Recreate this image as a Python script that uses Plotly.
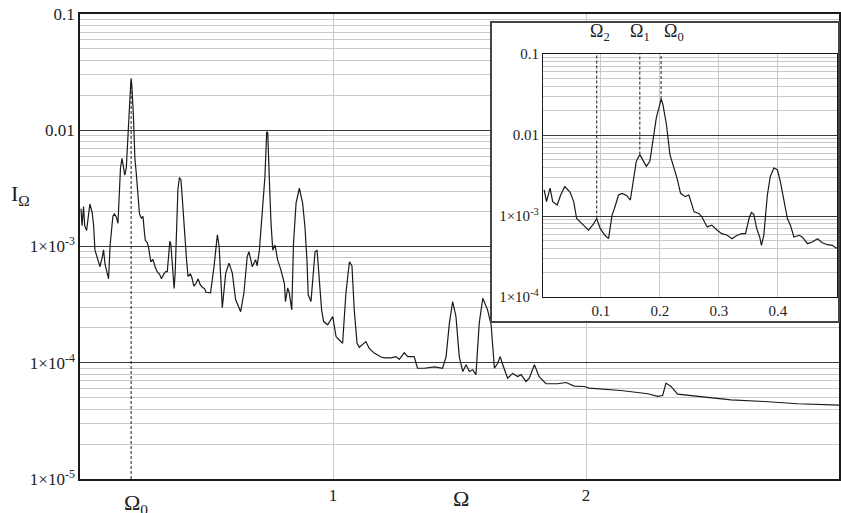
import numpy as np
import plotly.graph_objects as go

# ---- data ----
omega = [
    0.004, 0.008, 0.014, 0.0185, 0.026, 0.032, 0.039, 0.048, 0.054, 0.059,
    0.065, 0.071, 0.079, 0.088, 0.093, 0.099, 0.107, 0.113, 0.119, 0.123,
    0.130, 0.136, 0.144, 0.150, 0.154, 0.160, 0.166, 0.171, 0.177, 0.183,
    0.188, 0.194, 0.200, 0.202, 0.205, 0.211, 0.217, 0.223, 0.229, 0.235,
    0.243, 0.249, 0.254, 0.258, 0.266, 0.271, 0.280, 0.288, 0.297, 0.305,
    0.314, 0.322, 0.331, 0.339, 0.345, 0.351, 0.355, 0.359, 0.364, 0.369,
    0.372, 0.376, 0.382, 0.387, 0.393, 0.399, 0.404, 0.410, 0.416, 0.421,
    0.427, 0.436, 0.441, 0.450, 0.458, 0.467, 0.475, 0.484, 0.492, 0.498,
    0.516, 0.530, 0.543, 0.550, 0.5625, 0.576, 0.589, 0.602, 0.615, 0.635,
    0.648, 0.661, 0.668, 0.681, 0.694, 0.700, 0.709, 0.722, 0.731, 0.738,
    0.742, 0.748, 0.755, 0.762, 0.771, 0.781, 0.794, 0.808, 0.812, 0.821,
    0.827, 0.837, 0.844, 0.854, 0.867, 0.880, 0.889, 0.897, 0.902, 0.913,
    0.920, 0.929, 0.937, 0.946, 0.955, 0.963, 0.979, 0.999, 1.012, 1.025,
    1.038, 1.051, 1.065, 1.075, 1.084, 1.095, 1.104, 1.130, 1.143, 1.163,
    1.190, 1.203, 1.229, 1.249, 1.262, 1.282, 1.295, 1.321, 1.334, 1.361,
    1.401, 1.433, 1.447, 1.460, 1.473, 1.486, 1.499, 1.513, 1.526, 1.539,
    1.552, 1.565, 1.578, 1.592, 1.611, 1.625, 1.638, 1.651, 1.661, 1.671,
    1.690, 1.710, 1.730, 1.743, 1.763, 1.776, 1.796, 1.815, 1.842, 1.888,
    1.921, 1.954, 1.993, 2.013, 2.072, 2.138, 2.204, 2.244, 2.283, 2.303,
    2.316, 2.336, 2.362, 2.441, 2.507, 2.573, 2.705, 2.837, 3.000,
]
intensity = [
    2.11e-3, 1.51e-3, 2.21e-3, 1.51e-3, 1.37e-3, 1.82e-3, 2.32e-3, 1.97e-3, 1.51e-3, 9.35e-4,
    8.5e-4, 7.73e-4, 6.7e-4, 8.1e-4, 9.35e-4, 7.0e-4, 5.8e-4, 5.27e-4, 1.03e-3, 1.24e-3,
    1.82e-3, 1.91e-3, 1.79e-3, 1.58e-3, 2.43e-3, 4.74e-3, 5.74e-3, 4.98e-3, 4.11e-3, 4.74e-3,
    8.42e-3, 1.64e-2, 2.41e-2, 2.78e-2, 2.41e-2, 1.36e-2, 5.74e-3, 4.11e-3, 2.94e-3, 1.91e-3,
    1.74e-3, 1.82e-3, 1.37e-3, 1.13e-3, 1.08e-3, 9.8e-4, 7.36e-4, 7.73e-4, 6.7e-4, 6.08e-4,
    5.8e-4, 5.27e-4, 5.8e-4, 6.08e-4, 6.08e-4, 9.35e-4, 1.11e-3, 1.05e-3, 7.0e-4, 5.53e-4,
    4.36e-4, 5.8e-4, 1.82e-3, 3.09e-3, 3.92e-3, 3.74e-3, 2.67e-3, 1.66e-3, 9.35e-4, 7.73e-4,
    5.53e-4, 5.8e-4, 5.53e-4, 4.57e-4, 4.79e-4, 5.27e-4, 4.7e-4, 4.44e-4, 4.36e-4, 4.04e-4,
    4.0e-4, 6.8e-4, 1.26e-3, 1.0e-3, 2.97e-4, 5.9e-4, 7.2e-4, 5.9e-4, 3.5e-4, 2.75e-4,
    4.0e-4, 8.2e-4, 9.0e-4, 6.7e-4, 7.7e-4, 6.8e-4, 9.3e-4, 2.07e-3, 4.0e-3, 9.7e-3,
    9.5e-3, 4.0e-3, 1.58e-3, 9.3e-4, 1.03e-3, 7.7e-4, 6.3e-4, 4.8e-4, 3.36e-4, 4.4e-4,
    4.0e-4, 2.85e-4, 1.07e-3, 2.36e-3, 3.17e-3, 2.36e-3, 1.48e-3, 7.7e-4, 3.84e-4, 3.36e-4,
    5.5e-4, 9.0e-4, 9.3e-4, 5.5e-4, 2.85e-4, 2.26e-4, 2.12e-4, 2.5e-4, 1.68e-4, 1.57e-4,
    1.47e-4, 3.96e-4, 7.4e-4, 6.8e-4, 2.85e-4, 1.47e-4, 1.36e-4, 1.52e-4, 1.33e-4, 1.21e-4,
    1.12e-4, 1.1e-4, 1.1e-4, 1.13e-4, 1.07e-4, 1.22e-4, 1.13e-4, 1.13e-4, 8.97e-5, 8.97e-5,
    9.2e-5, 8.97e-5, 1.13e-4, 2.19e-4, 3.36e-4, 2.5e-4, 1.13e-4, 8.4e-5, 9.6e-5, 8.4e-5,
    8.7e-5, 7.9e-5, 2.19e-4, 3.59e-4, 2.85e-4, 2.12e-4, 8.97e-5, 9.9e-5, 1.13e-4, 9.6e-5,
    7.36e-5, 8.1e-5, 7.6e-5, 7.9e-5, 6.9e-5, 7.36e-5, 9.6e-5, 7.6e-5, 6.6e-5, 6.6e-5,
    6.76e-5, 6.3e-5, 6.25e-5, 6.05e-5, 5.93e-5, 5.77e-5, 5.55e-5, 5.41e-5, 5.13e-5, 5.23e-5,
    6.68e-5, 6.25e-5, 5.37e-5, 5.13e-5, 4.97e-5, 4.8e-5, 4.64e-5, 4.44e-5, 4.32e-5,
]

# marked frequencies
mark_names = ["Ω<sub>0</sub>", "Ω<sub>1</sub>", "Ω<sub>2</sub>"]
mark_omega = [0.202, 0.166, 0.093]

# axis ticks
main_y_ticks = [1e-5, 1e-4, 1e-3, 1e-2, 1e-1]
main_y_text = ["1×10<sup>-5</sup>", "1×10<sup>-4</sup>", "1×10<sup>-3</sup>", "0.01", "0.1"]
main_x_ticks = [1, 2, 3]
main_x_text = ["1", "2", "3"]
inset_y_ticks = [1e-4, 1e-3, 1e-2, 1e-1]
inset_y_text = ["1×10<sup>-4</sup>", "1×10<sup>-3</sup>", "0.01", "0.1"]
inset_x_ticks = [0.1, 0.2, 0.3, 0.4]
inset_x_text = ["0.1", "0.2", "0.3", "0.4"]

# ---- styling ----
SERIF = "Liberation Serif"
LINE = "#1a1a1a"
MINOR = "#c9c9c9"
MAJOR = "#3a3a3a"

def minor_vals(lo, hi):
    vals = []
    for e in range(lo, hi):
        for k in range(2, 10):
            vals.append(k * 10.0 ** e)
    return vals

def curve_at(w):
    return float(10 ** np.interp(w, omega, np.log10(intensity)))

fig = go.Figure()

# main curve
fig.add_trace(go.Scatter(x=omega, y=intensity, mode="lines",
                         line=dict(color=LINE, width=1.2),
                         xaxis="x", yaxis="y", showlegend=False, hoverinfo="skip"))
# main dashed marker at Omega0
w0 = mark_omega[0]
fig.add_trace(go.Scatter(x=[w0, w0], y=[1e-5, curve_at(w0)], mode="lines",
                         line=dict(color=LINE, width=1, dash="3px,2px"),
                         xaxis="x", yaxis="y", showlegend=False, hoverinfo="skip"))

# inset frame helper subplot (x2/y2) - empty white box
fig.add_trace(go.Scatter(x=[None], y=[None], xaxis="x2", yaxis="y2",
                         showlegend=False, hoverinfo="skip"))

# inset curve (x3/y3)
fig.add_trace(go.Scatter(x=omega, y=intensity, mode="lines",
                         line=dict(color=LINE, width=1.2),
                         xaxis="x3", yaxis="y3", showlegend=False, hoverinfo="skip"))
for w in mark_omega:
    fig.add_trace(go.Scatter(x=[w, w], y=[curve_at(w), 0.1], mode="lines",
                             line=dict(color=LINE, width=1, dash="3px,2px"),
                             xaxis="x3", yaxis="y3", showlegend=False, hoverinfo="skip"))

tickfont = dict(family=SERIF, size=17, color="#222")
inset_tickfont = dict(family=SERIF, size=15, color="#222")

fig.update_layout(
    width=841, height=513,
    margin=dict(l=80, r=2, t=14, b=34, autoexpand=False),
    paper_bgcolor="white", plot_bgcolor="white",
    showlegend=False,
    xaxis=dict(domain=[0, 1], range=[0, 3], tickmode="array",
               tickvals=main_x_ticks, ticktext=main_x_text, automargin=False,
               showgrid=True, gridcolor=MINOR, gridwidth=1, zeroline=False,
               showline=True, mirror=True, linecolor=LINE, linewidth=1.5,
               ticks="", tickfont=tickfont),
    yaxis=dict(domain=[0, 1], type="log", range=[-5, -1], tickmode="array",
               tickvals=main_y_ticks, ticktext=main_y_text, automargin=False,
               showgrid=True, gridcolor=MAJOR, gridwidth=1, zeroline=False,
               showline=True, mirror=True, linecolor=LINE, linewidth=1.5,
               ticks="", tickfont=tickfont,
               minor=dict(tickmode="array", tickvals=minor_vals(-5, -1),
                          showgrid=True, gridcolor=MINOR, gridwidth=1, ticks="")),
    xaxis2=dict(domain=[0.543, 0.9987], range=[0, 1], anchor="y2", automargin=False,
                showgrid=False, zeroline=False, showticklabels=False, ticks="",
                showline=True, mirror=True, linecolor="#444", linewidth=1.5),
    yaxis2=dict(domain=[0.340, 0.981], range=[0, 1], anchor="x2", automargin=False,
                showgrid=False, zeroline=False, showticklabels=False, ticks="",
                showline=True, mirror=True, linecolor="#444", linewidth=1.5),
    xaxis3=dict(domain=[0.610, 0.9974], range=[0.002, 0.5], anchor="y3",
                tickmode="array", tickvals=inset_x_ticks, ticktext=inset_x_text,
                automargin=False,
                showgrid=True, gridcolor=MINOR, gridwidth=1, zeroline=False,
                showline=True, mirror=True, linecolor=LINE, linewidth=1.2,
                ticks="", tickfont=inset_tickfont),
    yaxis3=dict(domain=[0.391, 0.914], type="log", range=[-4, -1], anchor="x3",
                tickmode="array", tickvals=inset_y_ticks, ticktext=inset_y_text,
                automargin=False,
                showgrid=True, gridcolor=MAJOR, gridwidth=1, zeroline=False,
                showline=True, mirror=True, linecolor=LINE, linewidth=1.2,
                ticks="", tickfont=inset_tickfont,
                minor=dict(tickmode="array", tickvals=minor_vals(-4, -1),
                           showgrid=True, gridcolor=MINOR, gridwidth=1, ticks="")),
)

ann = []
# axis titles
ann.append(dict(text="Ω", x=0.502, y=-0.043, xref="paper", yref="paper",
                showarrow=False, font=dict(family=SERIF, size=22, color="#222"),
                xanchor="center", yanchor="middle"))
ann.append(dict(text="I<sub>Ω</sub>", x=-0.079, y=0.61, xref="paper", yref="paper",
                showarrow=False, font=dict(family=SERIF, size=22, color="#222"),
                xanchor="center", yanchor="middle"))
# Omega0 label under main dashed line
ann.append(dict(text=mark_names[0], x=w0, y=-0.02, xref="x", yref="paper",
                showarrow=False, font=dict(family=SERIF, size=22, color="#222"),
                xanchor="left", yanchor="top", xshift=-9))
# inset labels (left edge offsets relative to their dashed lines)
label_shift = [1, -12, -9]
for name, w, s in zip(mark_names, mark_omega, label_shift):
    ann.append(dict(text=name, x=w, y=0.96, xref="x3", yref="paper",
                    showarrow=False, font=dict(family=SERIF, size=18, color="#222"),
                    xanchor="left", yanchor="middle", xshift=s))
fig.update_layout(annotations=ann)

fig.write_html("out.html", config={"displayModeBar": False},
               post_script="document.body.style.margin='0px';document.body.style.padding='0px';")
